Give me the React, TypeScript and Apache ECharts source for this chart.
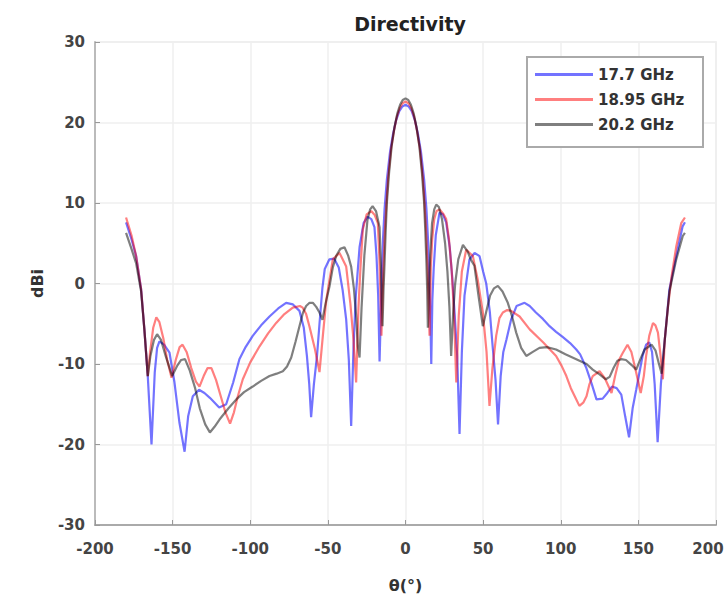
import React, { useEffect, useRef } from "react";
import * as echarts from "echarts";

const seriesNames = ["17.7 GHz", "18.95 GHz", "20.2 GHz"];
const seriesColors = ["rgba(0,0,255,0.55)", "rgba(255,0,0,0.5)", "rgba(0,0,0,0.5)"];

const xTicks = { min: -200, max: 200, interval: 50 };
const yTicks = { min: -30, max: 30, interval: 10 };

const data17_7: [number, number][] = [
  [-180, 7.6], [-176.5, 5.5], [-173.5, 3.4], [-170.3, -0.7], [-168.2, -5.7], [-166, -11.5], [-163.6, -20],
  [-161.5, -11], [-160, -8], [-158.5, -7.2], [-155.5, -7.6], [-152, -8.6], [-148.8, -12.3], [-145.6, -17.3],
  [-142.3, -20.9], [-140, -16.5], [-137, -14], [-133, -13.2], [-129.5, -13.6], [-126, -14.2], [-120, -15.4],
  [-115.5, -15], [-111, -12.3], [-107, -9.4], [-103, -7.9], [-98.4, -6.5], [-93, -5.2], [-87.6, -4.1],
  [-82, -3.1], [-76.9, -2.4], [-72.5, -2.6], [-68.3, -3.4], [-65.5, -5.5], [-63.5, -9], [-62, -12.5],
  [-60.8, -16.6], [-59, -12.5], [-57, -9], [-55.4, -5], [-53.5, -0.5], [-52, 1.8], [-49, 3], [-46, 3.1],
  [-43, 2], [-40.5, -0.8], [-38.2, -4.5], [-36.5, -9.5], [-35, -17.7], [-33.5, -8], [-32, -1.5], [-29.6, 4.5],
  [-27, 7.5], [-24.5, 8.3], [-22, 8], [-20, 7], [-18.7, 3.5], [-17.6, -1.5], [-16.7, -9.7], [-16.2, -6],
  [-15.5, -0.3], [-14.5, 5.5], [-13.5, 9.2], [-12, 12.9], [-10, 16.3], [-8, 18.6], [-6, 20.3], [-4, 21.4],
  [-2, 22], [0, 22.2], [2, 22], [4, 21.4], [6, 20.3], [8, 18.6], [10, 16.3], [12, 12.9], [13.5, 9.2],
  [14.5, 5.5], [15.5, -0.3], [16.2, -6], [16.6, -10], [17.3, -2], [18.2, 2], [19.5, 6], [21.9, 8.8],
  [24, 8.6], [26.2, 7.6], [28.5, 4.5], [30.2, 0.5], [31.6, -3.6], [33.3, -9], [34.8, -18.7], [36.3, -8.5],
  [38, -1.5], [41.2, 3], [44.5, 3.8], [47.7, 3.4], [50, 1.5], [52, 0], [54.3, -3.5], [56.3, -8.2], [58, -12],
  [59.6, -17.5], [61.3, -11.5], [63, -8.5], [65, -7], [68, -4.5], [71.5, -2.8], [76.7, -2.4], [80, -2.8],
  [84, -3.6], [88.5, -4.4], [92.8, -5.3], [97, -6], [101, -6.6], [106, -7.4], [110, -8.2], [112.5, -8.8],
  [116.5, -10.5], [120, -12.5], [123, -14.4], [127, -14.3], [130, -13.6], [133, -12.8], [136, -13],
  [139, -13.8], [141.5, -16.5], [144, -19.1], [146.3, -15.5], [148.6, -13.2], [152.7, -9], [155, -7.6],
  [157, -7.3], [158.8, -8.5], [160.5, -12.5], [162.4, -19.7], [164.5, -12.5], [167, -7], [170, -0.7],
  [174.4, 3.4], [178.5, 7.1], [180, 7.6],
];

const data18_95: [number, number][] = [
  [-180, 8.2], [-176.5, 6], [-173.5, 3.4], [-170.3, -0.7], [-168.2, -5.7], [-166, -11.5], [-164.5, -8.5],
  [-162.5, -5.5], [-160.5, -4.2], [-158.5, -4.8], [-156, -6.8], [-153.5, -9.5], [-150.7, -11.7], [-148, -9.5],
  [-145.5, -7.9], [-143.6, -7.6], [-141, -8.5], [-138, -10.5], [-135, -12.2], [-132.7, -12.8], [-130, -11.5],
  [-127.5, -10.5], [-125, -10.5], [-122, -12], [-119, -14], [-116, -16], [-113, -17.4], [-110.5, -16],
  [-108, -14], [-104.8, -11.9], [-100, -9.8], [-94, -7.8], [-88.5, -6.2], [-83.3, -4.9], [-78, -3.8],
  [-72.6, -3], [-68, -2.8], [-66.2, -3], [-64, -3.8], [-61.9, -5.3], [-58.5, -8], [-55.4, -11], [-53, -6],
  [-51, -2], [-46.8, 3], [-42.5, 3.8], [-38.2, 2.1], [-35.5, -2.5], [-33.5, -7], [-31.8, -12.3], [-30.3, -3],
  [-29, 2], [-27.5, 6.7], [-25, 8.6], [-22.1, 9], [-19.8, 8.5], [-17.8, 7.5], [-16.8, 3], [-16.2, -1],
  [-15.5, -6.5], [-14.8, -2], [-14.1, 2.5], [-13.2, 6.8], [-12, 10.8], [-11.1, 13.3], [-9.3, 16.7],
  [-7.4, 19], [-5.6, 20.7], [-3.7, 21.8], [-1.9, 22.4], [0, 22.6], [1.9, 22.4], [3.7, 21.8], [5.6, 20.7],
  [7.4, 19], [9.3, 16.7], [11.1, 13.3], [12, 10.8], [13.2, 6.8], [14.1, 2.5], [14.8, -2], [15.5, -6.5],
  [16.3, 2], [17.2, 5.5], [18.5, 8], [20, 9], [22, 9.2], [24.5, 8.6], [26.2, 8], [28, 5.5], [29.8, 1.5],
  [31.3, -4], [32.7, -12.3], [34.3, -4], [36.3, 1.5], [39.1, 4.2], [43.4, 3.4], [46.5, 0.5], [49.8, -3.6],
  [52.2, -8.5], [54.1, -15.2], [56, -10.5], [58.4, -6.5], [60.5, -4.3], [62.7, -3.6], [65.5, -3.3],
  [68, -3.4], [73.5, -4.1], [80, -5.7], [88.6, -7.3], [97, -9], [100.5, -10.2], [103.6, -11.5],
  [106.5, -13], [109, -14], [112, -15.2], [114.5, -14.8], [116.6, -14], [118.5, -12.5], [120.6, -11.5],
  [125, -10.9], [128.5, -11.8], [132.7, -13.6], [135, -11.5], [137.5, -9.5], [140, -8.6], [143, -7.6],
  [145.5, -8.5], [148.5, -11], [151.5, -13.6], [153.5, -11.5], [155, -9], [157, -6.5], [159.4, -4.9],
  [161, -5.2], [162.6, -6.1], [164.3, -9], [165.8, -11.9], [167, -7], [169, -3], [171.5, 1], [174.4, 4.6],
  [177.6, 7.5], [180, 8.2],
];

const data20_2: [number, number][] = [
  [-180, 6.3], [-176.5, 4.3], [-173.5, 2.5], [-170.3, -1], [-168.2, -5.7], [-166, -11.5], [-164.3, -9],
  [-162, -7], [-160, -6.3], [-157.5, -7], [-154.5, -9], [-150.3, -11.5], [-147, -10.2], [-144.5, -9.5],
  [-142, -9.4], [-139, -10.8], [-135.5, -13], [-132.5, -15.5], [-129, -17.5], [-126, -18.5], [-123, -17.8],
  [-119.8, -16.9], [-114, -15.5], [-109, -14.4], [-104, -13.5], [-98.4, -12.8], [-93, -12.1], [-87.6, -11.5],
  [-83, -11.2], [-79, -10.9], [-76.3, -10.3], [-73.6, -9.2], [-70.8, -7.2], [-68.3, -5.3], [-66, -3.6],
  [-64, -2.8], [-61.8, -2.4], [-59.7, -2.4], [-57.5, -2.9], [-55.4, -3.6], [-53.5, -4.5], [-51.5, -2.5],
  [-49, -0.4], [-46.8, 2], [-44.7, 3.4], [-42, 4.3], [-39.3, 4.5], [-37, 3.5], [-35, 2.1], [-33.3, -0.5],
  [-31.8, -4], [-30.7, -7.8], [-29.6, -9.2], [-28.3, -3], [-26.5, 3.5], [-24.5, 7.9], [-22.8, 9.2],
  [-21.2, 9.6], [-19, 9], [-16.7, 7], [-15.8, 2], [-15.2, -2], [-14.8, -5.3], [-14.2, -1], [-13.5, 2.5],
  [-12.8, 6.3], [-12, 10], [-10.6, 13.7], [-8.9, 17.1], [-7.1, 19.4], [-5.3, 21.1], [-3.5, 22.2],
  [-1.8, 22.8], [0, 23], [1.8, 22.8], [3.5, 22.2], [5.3, 21.1], [7.1, 19.4], [8.9, 17.1], [10.6, 13.7],
  [12, 10], [12.8, 6.3], [13.5, 2.5], [14, -1], [14.4, -5.5], [15.1, -1], [15.9, 3.5], [17.1, 7.5],
  [18.5, 9.2], [19.8, 9.8], [21.5, 9.5], [23.5, 8], [25.5, 5], [27, 1.5], [28.3, -3], [29.4, -9], [30.6, -4],
  [32, 0], [34, 3], [37, 4.8], [40, 4], [42, 3], [44.4, 2.2], [47, -1.5], [49.8, -5.3], [52, -3.5],
  [54.5, -1.5], [57, -0.6], [59.5, -0.3], [62.5, -1], [65.9, -2.4], [68.5, -4], [71.3, -6.1], [74.5, -8],
  [77.8, -9], [82, -8.5], [86.3, -8], [91, -7.9], [97, -8.2], [103, -8.8], [110, -9.4], [116.6, -10],
  [120.6, -10.7], [125, -11.3], [129, -11.9], [131.5, -11.6], [134, -10.5], [136.5, -9.6], [139, -9.4],
  [142, -9.5], [145.5, -10.1], [148.6, -10.7], [151.5, -9.3], [154, -8.2], [158.5, -7.6], [161, -8.3],
  [163, -9.8], [165, -11.2], [167, -7], [170, -1], [174.4, 3], [178.6, 5.9], [180, 6.3],
];

const allData = [data17_7, data18_95, data20_2];
const FONT = "DejaVu Sans";

export default function App() {
  const ref = useRef<HTMLDivElement>(null);
  useEffect(() => {
    document.body.style.margin = "0";
    if (!ref.current) return;
    const chart = echarts.init(ref.current, undefined, { renderer: "svg" });
    const labelStyle = { fontFamily: FONT, fontSize: 15, fontWeight: "bold", color: "#444" };
    chart.setOption({
      animation: false,
      backgroundColor: "#fff",
      title: {
        text: "Directivity",
        left: 405,
        top: 9,
        textAlign: "center",
        textStyle: { fontFamily: FONT, fontSize: 19, fontWeight: "bold", color: "#222" },
      },
      grid: {
        left: 95, right: 10, top: 42, bottom: 76,
        outerBoundsMode: "none",
        containLabel: false,
        show: true, borderColor: "#e8e8e8", borderWidth: 1.5, backgroundColor: "#fff",
      },
      graphic: [
        {
          type: "rect",
          z: 1,
          shape: { x: 527, y: 57, width: 176, height: 90 },
          style: { fill: "#fff", stroke: "#aaaaaa", lineWidth: 2 },
        },
      ],
      legend: {
        orient: "vertical",
        left: 535,
        top: 67,
        padding: 0,
        itemGap: 10,
        itemWidth: 58,
        itemHeight: 3,
        icon: "rect",
        textStyle: { fontFamily: FONT, fontSize: 15, fontWeight: "bold", color: "#333" },
        data: seriesNames,
      },
      xAxis: {
        type: "value",
        min: xTicks.min, max: xTicks.max, interval: xTicks.interval,
        name: "θ(°)", nameLocation: "middle", nameGap: 52,
        nameTextStyle: { fontFamily: FONT, fontSize: 16, fontWeight: "bold", color: "#333" },
        axisLine: { show: true, onZero: false, lineStyle: { color: "#aaaaaa", width: 2 } },
        axisTick: { show: true, inside: true, length: 5, lineStyle: { color: "#999" } },
        axisLabel: {
          margin: 16,
          ...labelStyle,
          formatter: (v: number) => (v === xTicks.max ? `{edge|${v}}` : `${v}`),
          rich: { edge: { ...labelStyle, padding: [0, 16, 0, 0] } },
        },
        splitLine: { show: true, lineStyle: { color: "#efefef", width: 1.5 } },
      },
      yAxis: {
        type: "value",
        min: yTicks.min, max: yTicks.max, interval: yTicks.interval,
        name: "dBi", nameLocation: "middle", nameGap: 50,
        nameTextStyle: { fontFamily: FONT, fontSize: 16, fontWeight: "bold", color: "#333" },
        axisLine: { show: true, onZero: false, lineStyle: { color: "#bbbbbb", width: 2 } },
        axisTick: { show: true, inside: true, length: 5, lineStyle: { color: "#999" } },
        axisLabel: { margin: 10, ...labelStyle },
        splitLine: { show: true, lineStyle: { color: "#efefef", width: 1.5 } },
      },
      series: allData.map((d, i) => ({
        name: seriesNames[i],
        type: "line",
        data: d,
        showSymbol: false,
        symbol: "none",
        color: seriesColors[i],
        lineStyle: { color: seriesColors[i], width: 2.2 },
        z: 2 + i,
      })),
    });
    return () => chart.dispose();
  }, []);
  return <div ref={ref} style={{ width: 726, height: 601 }} />;
}
